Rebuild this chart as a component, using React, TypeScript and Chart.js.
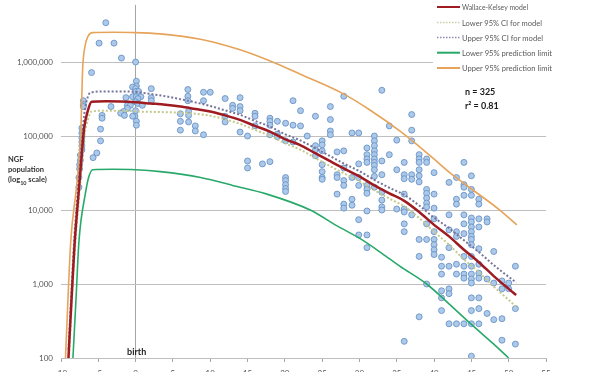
import React, { useEffect, useRef } from 'react';
import { Chart, registerables } from 'chart.js';

Chart.register(...registerables);

// ---------- axis ticks ----------
const xTickValues = [-10, -5, 0, 5, 10, 15, 20, 25, 30, 35, 40, 45, 50, 55];
const yTickValues = [100, 1000, 10000, 100000, 1000000];

// ---------- Wallace-Kelsey model and 95% CI ----------
const modelAges = [-9, -8.6, -8.2, -7.6, -7.2, -6.9, -6.4, -5.9, -4, -2, 0, 2, 4, 6, 8, 10, 12, 14, 16, 18, 20, 22, 24, 26, 28, 30, 32, 34, 36, 38, 40, 42, 44, 46, 48, 50, 51];
const modelValues = [100, 590, 3200, 19000, 59000, 128000, 220000, 290000, 295000, 292000, 285000, 275000, 265000, 250000, 232000, 215000, 190000, 165000, 137000, 115000, 91000, 76000, 59000, 46000, 36000, 28500, 21500, 16800, 13300, 9400, 6300, 4400, 2900, 1970, 1280, 860, 710];
const upperCIValues = [130, 800, 4500, 27000, 85000, 190000, 340000, 390000, 400000, 400000, 395000, 370000, 345000, 315000, 285000, 255000, 222000, 193000, 160000, 134000, 106000, 88000, 69000, 54000, 42000, 33500, 25500, 20000, 16000, 11500, 7900, 5700, 3900, 2700, 1800, 1250, 1050];
const lowerCIValues = [75, 450, 2400, 14000, 43000, 95000, 165000, 215000, 220000, 220000, 215000, 212000, 210000, 207000, 200000, 188000, 168000, 146000, 121000, 101000, 80000, 66000, 51000, 39500, 31000, 24500, 18500, 14300, 11200, 7800, 5100, 3400, 2150, 1450, 920, 610, 490];

// ---------- 95% prediction limits ----------
const upperPredAges = [-9.4, -8.7, -8.0, -7.6, -7.35, -7.1, -6.8, -6.4, -5.75, -3, 0, 3.3, 8.7, 14, 19, 22, 27.8, 31.4, 35.4, 39.4, 42.1, 44.8, 48.8, 51.1];
const upperPredValues = [100, 3700, 17400, 44000, 110000, 800000, 1600000, 2200000, 2500000, 2520000, 2500000, 2400000, 2030000, 1460000, 940000, 690000, 374000, 225000, 117000, 55000, 32000, 20000, 10000, 6300];
const lowerPredAges = [-8.4, -8.0, -7.6, -6.7, -6.3, -5.75, -3, 0, 3.3, 8.7, 13, 17.6, 23.4, 27, 30.1, 33, 35.4, 39.0, 42, 45, 48, 50.0];
const lowerPredValues = [100, 590, 3700, 17400, 27500, 35000, 35500, 35000, 33000, 27500, 21500, 16400, 10000, 6100, 4100, 2600, 1740, 1000, 540, 284, 154, 100];

// ---------- observed NGF populations (age, count) ----------
const obsAges = [
  -4.0, -4.9, -2.9, -1.9, 0, -5.9, 0.1, 0.1, -0.4, 0, 0, 0.4, -0.4, 0.1, 0.7, 0.3, 0, 0.3, 2.1, 2.1, 2.1, -1.3, -1.1, -0.7, -3.3, -1.1, -1.6, -2.0, -1.5, 0, -0.1, -0.4, 0.1, 0.1, -4.5, -4.5, -4.7, -4.7, -5.2, -5.7, 0.9, -7.0, -7.0, -7.0, -7.2, -7.2, -7.2, -7.2, -7.2, -7.2, -7.4, -7.4, -7.5, -7.5, -7.6, -7.6,
  7.0, 7.0, 7.0, 7.1, 7.1, 7.1, 6.0, 6.0, 6.0, 8.0, 8.0, 9.1, 9.1, 9.1, 10.0,
  12, 12, 12, 13, 13, 14, 14, 14, 14, 15, 15, 15, 16, 16, 16, 17, 18, 18, 18, 18, 18, 19, 19, 19, 20.1, 20.1, 20.1, 20.1, 20.1, 20.1, 20.1,
  21.1, 21.1, 21.1, 22.1, 22.1, 23, 24.1, 24.1, 24.1, 24.1, 25, 25, 25, 25, 25, 25, 25, 26.1, 26.1, 26.1, 26.1, 27, 27, 27, 27, 27.9, 27.9, 27.9, 27.9, 27.9, 27.9, 27.9, 29, 29, 29, 29, 29.9, 29.9, 29.9, 29.9, 29.9, 29.9,
  31, 31, 31, 31, 31, 31, 31, 31, 31, 31, 32, 32, 32, 32, 32, 32, 32, 32, 32, 32, 32, 33, 33, 33, 33, 33, 33, 33, 34, 34, 35, 35, 35,
  36, 36, 36, 36, 36, 36, 36, 36, 36, 37, 37, 37, 37, 37, 37, 38, 38, 38, 38, 38, 38, 38, 38, 38, 39, 39, 39, 39, 39, 39, 39, 39, 39, 39, 40, 40, 40, 40, 40, 40, 40, 40, 40,
  41, 41, 41, 41, 41, 41, 42, 42, 42, 42, 42, 42, 42, 42, 43, 43, 43, 43, 43, 43, 43, 43, 44, 44, 44, 44, 44, 44, 44, 44, 44, 44, 44, 44,
  45, 45, 45, 45, 45, 45, 45, 45, 45, 45, 45, 45, 45, 45, 45, 45, 45, 45, 45,
  46, 46, 46, 46, 46, 46, 46, 46, 46, 46, 46, 47.1, 47.1, 47.1, 47.1, 48, 48, 48, 49.1, 49.1, 49.1, 49.1, 50, 50, 50.9, 50.9, 50.9,
];
const obsValues = [
  3400000, 1800000, 1800000, 1130000, 1000000, 720000, 550000, 475000, 460000, 437000, 400000, 400000, 340000, 340000, 340000, 320000, 290000, 275000, 437000, 330000, 300000, 330000, 260000, 260000, 250000, 236000, 215000, 203000, 190000, 220000, 185000, 185000, 158000, 140000, 190000, 174000, 124000, 86000, 59000, 51000, 260000, 300000, 265000, 250000, 128000, 110000, 94000, 83000, 74000, 65000, 55000, 47000, 41000, 36000, 27500, 20300,
  425000, 345000, 300000, 215000, 190000, 155000, 200000, 158000, 120000, 137000, 117000, 390000, 300000, 104000, 390000,
  321000, 185000, 155000, 260000, 236000, 330000, 250000, 220000, 113000, 100000, 46000, 37000, 203000, 185000, 137000, 42000, 45000, 174000, 158000, 140000, 104000, 158000, 106000, 98000, 149000, 86000, 27500, 25000, 22000, 19500, 17800,
  300000, 140000, 83000, 220000, 137000, 100000, 185000, 74000, 65000, 54000, 86000, 76000, 63000, 41000, 33000, 27500, 26000, 250000, 167000, 117000, 104000, 61000, 30000, 27500, 16400, 345000, 63000, 37000, 25000, 21500, 12000, 10600, 110000, 27500, 14000, 11600, 110000, 42000, 27500, 21500, 7400, 4600,
  69000, 56000, 49000, 44000, 21500, 19000, 16800, 9700, 4600, 3100, 100000, 86000, 74000, 63000, 56000, 49000, 44000, 40000, 35000, 28500, 20300, 415000, 46000, 30000, 17400, 13600, 11000, 10000, 137000, 56000, 88000, 35000, 10300,
  44000, 30000, 26500, 16400, 10300, 9400, 6500, 5100, 168, 195000, 120000, 86000, 30000, 26000, 8600, 56000, 49000, 44000, 35000, 29000, 24000, 4000, 2360, 360, 49000, 44000, 19000, 16800, 14500, 12400, 11000, 6500, 4000, 1000, 32000, 16400, 10600, 7600, 5100, 4000, 3400, 2900, 2500,
  2300, 1740, 1360, 810, 650, 437, 23600, 8600, 5400, 3100, 1740, 860, 740, 290, 27500, 14000, 12000, 5100, 4400, 1850, 1360, 290, 44000, 22000, 20300, 15800, 8600, 6500, 4800, 2360, 1740, 1360, 1200, 290,
  29000, 19000, 15800, 7800, 6900, 5900, 5100, 4400, 4000, 3400, 2360, 1740, 1360, 1170, 1030, 650, 437, 290, 106,
  14000, 12000, 7600, 5900, 3000, 1850, 1400, 1200, 650, 465, 290, 7600, 6900, 1170, 400, 2750, 1030, 330, 1100, 860, 340, 174, 1030, 860, 1740, 465, 154,
];

// ---------- legend / annotation text ----------
const legendLabels = ['Wallace-Kelsey model', 'Lower 95% CI for model', 'Upper 95% CI for model', 'Lower 95% prediction limit', 'Upper 95% prediction limit'];
const statsLines = ['n = 325', 'r\u00B2 = 0.81'];
const yTitleLines = ['NGF', 'population', '(log'];
const birthLabel = 'birth';

const COLORS = {
  model: '#9e1b22',
  upperCI: '#75759c',
  lowerCI: '#c4c98a',
  lowerPred: '#28a96a',
  upperPred: '#e6a45a',
  pointFill: '#acc9ea',
  pointBorder: '#5f8cc2',
  grid: '#bfbfbf',
};

const legendStyles = [
  { color: COLORS.model, width: 2, dash: [] as number[] },
  { color: '#c9cfa6', width: 1.5, dash: [1.5, 1.5] },
  { color: '#8c8cab', width: 1.5, dash: [1.5, 1.5] },
  { color: COLORS.lowerPred, width: 2, dash: [] as number[] },
  { color: COLORS.upperPred, width: 2, dash: [] as number[] },
];

function toXY(ages: number[], values: number[]) {
  return ages.map((a, i) => ({ x: a, y: values[i] }));
}

const annotationPlugin = {
  id: 'annotations',
  afterDraw(chart: any) {
    const ctx = chart.ctx as CanvasRenderingContext2D;
    ctx.save();
    // legend box
    ctx.fillStyle = '#ffffff';
    ctx.fillRect(433, 0, 125, 77);
    const ys = [7, 22.5, 37.5, 52.7, 68];
    ctx.font = '8px Lato';
    ctx.textBaseline = 'middle';
    ctx.textAlign = 'left';
    const maxW = [66, 80, 81, 90, 90];
    legendLabels.forEach((lab, i) => {
      const st = legendStyles[i];
      ctx.beginPath();
      ctx.setLineDash(st.dash);
      ctx.strokeStyle = st.color;
      ctx.lineWidth = st.width;
      ctx.moveTo(437, ys[i]);
      ctx.lineTo(460, ys[i]);
      ctx.stroke();
      ctx.setLineDash([]);
      ctx.fillStyle = '#5a5a5a';
      ctx.fillText(lab, 462, ys[i] + 0.5, maxW[i]);
    });
    // stats
    ctx.fillStyle = '#1a1a1a';
    ctx.font = 'bold 9px Lato';
    ctx.fillText(statsLines[0], 465, 92);
    ctx.fillText(statsLines[1], 465, 106);
    // y title
    ctx.font = 'bold 7.5px Lato';
    ctx.fillStyle = '#333333';
    ctx.fillText(yTitleLines[0], 8, 160);
    ctx.fillText(yTitleLines[1], 8, 170);
    ctx.fillText(yTitleLines[2], 8, 180);
    const w = ctx.measureText(yTitleLines[2]).width;
    ctx.font = 'bold 5.5px Lato';
    ctx.fillText('10', 8 + w, 183);
    const w2 = ctx.measureText('10').width;
    ctx.font = 'bold 7.5px Lato';
    ctx.fillText(' scale)', 8 + w + w2, 180);
    // birth label
    const xs = chart.scales.x;
    ctx.font = 'bold 9px Lato';
    ctx.fillStyle = '#222222';
    ctx.textAlign = 'center';
    ctx.fillText(birthLabel, xs.getPixelForValue(0) + 1, 352);
    ctx.restore();
  },
};

export default function App() {
  const canvasRef = useRef<HTMLCanvasElement | null>(null);

  useEffect(() => {
    if (!canvasRef.current) return;
    const lineBase = { showLine: true, pointRadius: 0, fill: false, cubicInterpolationMode: 'monotone' as const, order: 0 };
    const chart = new Chart(canvasRef.current, {
      type: 'scatter',
      data: {
        datasets: [
          { ...lineBase, label: legendLabels[0], data: toXY(modelAges, modelValues), borderColor: COLORS.model, borderWidth: 2.5 },
          { ...lineBase, label: legendLabels[1], data: toXY(modelAges, lowerCIValues), borderColor: COLORS.lowerCI, borderWidth: 2, borderDash: [2, 2] },
          { ...lineBase, label: legendLabels[2], data: toXY(modelAges, upperCIValues), borderColor: COLORS.upperCI, borderWidth: 2, borderDash: [2, 2] },
          { ...lineBase, label: legendLabels[3], data: toXY(lowerPredAges, lowerPredValues), borderColor: COLORS.lowerPred, borderWidth: 1.6 },
          { ...lineBase, label: legendLabels[4], data: toXY(upperPredAges, upperPredValues), borderColor: COLORS.upperPred, borderWidth: 1.6 },
          {
            label: 'Observed',
            data: toXY(obsAges, obsValues),
            showLine: false,
            pointRadius: 3,
            pointBorderWidth: 0.8,
            pointBackgroundColor: COLORS.pointFill,
            pointBorderColor: COLORS.pointBorder,
            order: 1,
          } as any,
        ],
      },
      options: {
        animation: false,
        responsive: true,
        maintainAspectRatio: false,
        layout: { padding: { left: 0, right: 54, top: 0, bottom: 0 } },
        plugins: { legend: { display: false }, tooltip: { enabled: false } },
        scales: {
          x: {
            type: 'linear',
            min: -10,
            max: 55,
            afterBuildTicks: (s: any) => { s.ticks = xTickValues.map((v) => ({ value: v })); },
            afterFit: (s: any) => { s.height = 27; s.paddingLeft = 0; s.paddingRight = 0; },
            grid: {
              color: (c: any) => (c.tick && c.tick.value === 0 ? '#a6a6a6' : 'rgba(0,0,0,0)'),
              tickColor: '#a6a6a6',
              tickLength: 4,
              lineWidth: 1,
            },
            border: { display: true, color: COLORS.grid },
            ticks: { font: { family: 'Lato', size: 8 }, color: '#555555', padding: 7, maxRotation: 0 },
          },
          y: {
            type: 'logarithmic',
            min: 100,
            max: 5934000,
            afterBuildTicks: (s: any) => { s.ticks = yTickValues.map((v) => ({ value: v })); },
            afterFit: (s: any) => { s.width = 61; s.paddingTop = 0; s.paddingBottom = 0; },
            grid: { color: COLORS.grid, drawTicks: false, lineWidth: 1 },
            border: { display: false },
            ticks: {
              font: { family: 'Lato', size: 8 },
              color: '#555555',
              padding: 8,
              callback: (v: any) => Number(v).toLocaleString('en-US'),
            },
          },
        },
      },
      plugins: [annotationPlugin],
    });
    return () => chart.destroy();
  }, []);

  return (
    <div style={{ position: 'absolute', left: 0, top: 0, width: 600, height: 385, background: '#ffffff' }}>
      <canvas ref={canvasRef} />
    </div>
  );
}
